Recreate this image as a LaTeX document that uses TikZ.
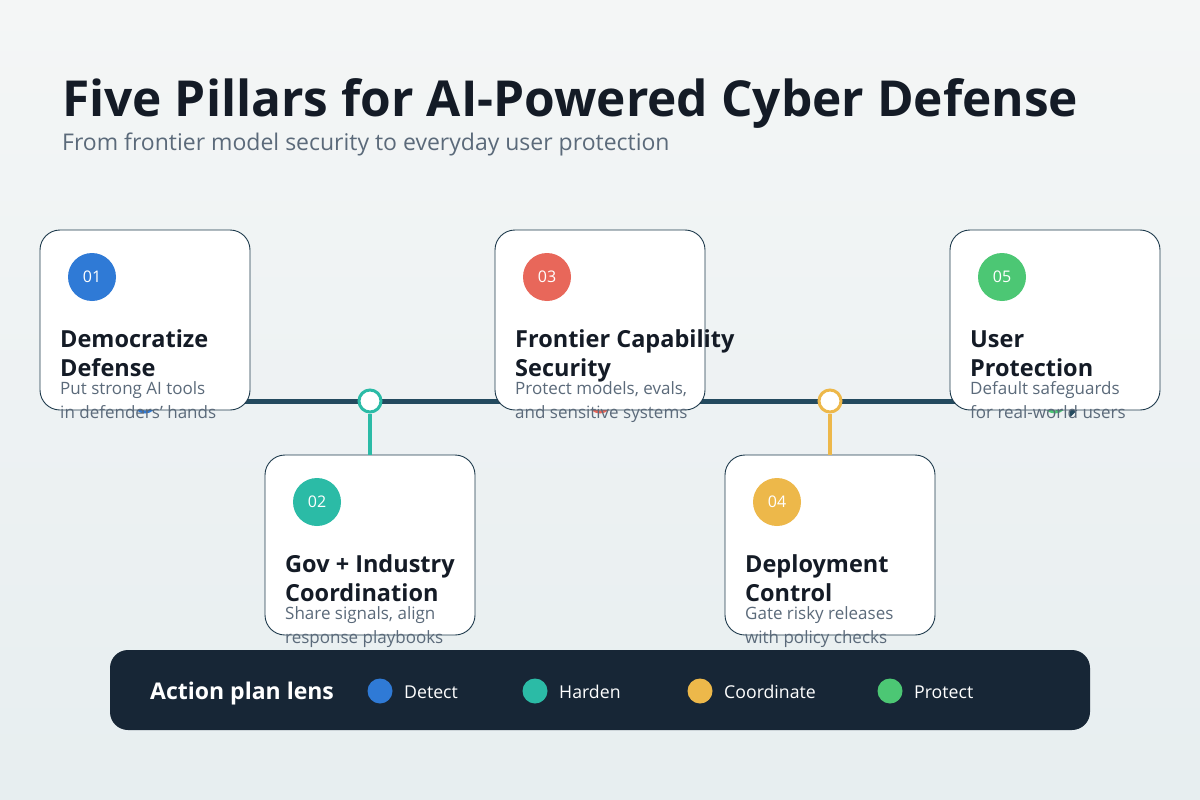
\documentclass[tikz,border=0pt]{standalone}
\usepackage{fontspec}
\setmainfont{Open Sans}
\usetikzlibrary{arrows.meta}
\definecolor{bgtop}{HTML}{F4F6F6}
\definecolor{bgbot}{HTML}{E7EEF0}
\definecolor{ink}{HTML}{141B26}
\definecolor{muted}{HTML}{5B6A7A}
\definecolor{linec}{HTML}{234A5E}
\definecolor{cardedge}{HTML}{1E3A4C}
\definecolor{cblue}{HTML}{2F7AD6}
\definecolor{cteal}{HTML}{2BBBA6}
\definecolor{cred}{HTML}{E8675A}
\definecolor{cyellow}{HTML}{EDB84A}
\definecolor{cgreen}{HTML}{4CC774}
\definecolor{barbg}{HTML}{172636}
\tikzset{
  card/.style={draw=cardedge, line width=0.9pt, fill=white, rounded corners=20pt,
    minimum width=210pt, minimum height=180pt, inner sep=0pt},
  badge/.style={circle, fill=#1, minimum size=48pt, inner sep=0pt, text=white,
    font=\fontsize{16}{19}\selectfont},
  marker/.style={circle, draw=#1, line width=3pt, fill=white, minimum size=22pt, inner sep=0pt},
  ctitle/.style={anchor=base west, inner sep=0pt, text=ink, font=\fontsize{23.5}{27}\selectfont\bfseries},
  cdesc/.style={anchor=base west, inner sep=0pt, text=muted, font=\fontsize{17}{20}\selectfont},
  stem/.style={draw=#1, line width=3.5pt},
  legdot/.style={circle, fill=#1, minimum size=25pt, inner sep=0pt},
  leglabel/.style={anchor=base west, inner sep=0pt, text=white, font=\fontsize{17.7}{21}\selectfont},
}
\newcommand{\pillar}[9]{%
  \node[card] (c#1) at (#2+105,#3+90) {};
  \node[badge=#4] (b#1) at (#2+52,#3+47) {#5};
  \node[ctitle] (t#1a) at (#2+20,#3+117) {#6};
  \node[ctitle] (t#1b) at (#2+20,#3+146) {#7};
  \node[cdesc] (d#1a) at (#2+20,#3+164) {#8};
  \node[cdesc] (d#1b) at (#2+20,#3+188) {#9};
}
\begin{document}
\begin{tikzpicture}[x=1pt,y=-1pt]
\useasboundingbox (0,0) rectangle (1200,800);
\shade[top color=bgtop,bottom color=bgbot] (0,0) rectangle (1200,800);

\node[anchor=base west, inner sep=0pt, text=ink, font=\fontsize{49.6}{60}\selectfont\bfseries] (title) at (62,117) {Five Pillars for AI-Powered Cyber Defense};
\node[anchor=base west, inner sep=0pt, text=muted, font=\fontsize{23}{27}\selectfont] (subtitle) at (62,150) {From frontier model security to everyday user protection};

% timeline
\coordinate (tstart) at (145,401);
\coordinate (tend) at (1086,401);
\draw[linec, line width=5pt, -{Triangle[length=16pt,width=32pt]}] (tstart) -- (tend);

\node[marker=cblue] (m1) at (145,401) {};
\node[marker=cteal] (m2) at (370,401) {};
\node[marker=cred] (m3) at (600,401) {};
\node[marker=cyellow] (m4) at (830,401) {};
\node[marker=cgreen] (m5) at (1055,401) {};

\pillar{1}{40}{230}{cblue}{01}{Democratize}{Defense}{Put strong AI tools}{in defenders' hands}
\pillar{2}{265}{455}{cteal}{02}{Gov + Industry}{Coordination}{Share signals, align}{response playbooks}
\pillar{3}{495}{230}{cred}{03}{Frontier Capability}{Security}{Protect models, evals,}{and sensitive systems}
\pillar{4}{725}{455}{cyellow}{04}{Deployment}{Control}{Gate risky releases}{with policy checks}
\pillar{5}{950}{230}{cgreen}{05}{User}{Protection}{Default safeguards}{for real-world users}

\draw[stem=cteal] (m2.south) -- (c2.north);
\draw[stem=cyellow] (m4.south) -- (c4.north);

% legend bar
\node[fill=barbg, rounded corners=18pt, minimum width=980pt, minimum height=80pt, inner sep=0pt] (bar) at (600,690) {};
\node[anchor=base west, inner sep=0pt, text=white, font=\fontsize{23}{27}\selectfont\bfseries] (lens) at (150,699) {Action plan lens};
\node[legdot=cblue] (l1) at (380,691) {};
\node[leglabel] (l1t) at (404,698) {Detect};
\node[legdot=cteal] (l2) at (535,691) {};
\node[leglabel] (l2t) at (559,698) {Harden};
\node[legdot=cyellow] (l3) at (700,691) {};
\node[leglabel] (l3t) at (724,698) {Coordinate};
\node[legdot=cgreen] (l4) at (890,691) {};
\node[leglabel] (l4t) at (914,698) {Protect};
\end{tikzpicture}
\end{document}
